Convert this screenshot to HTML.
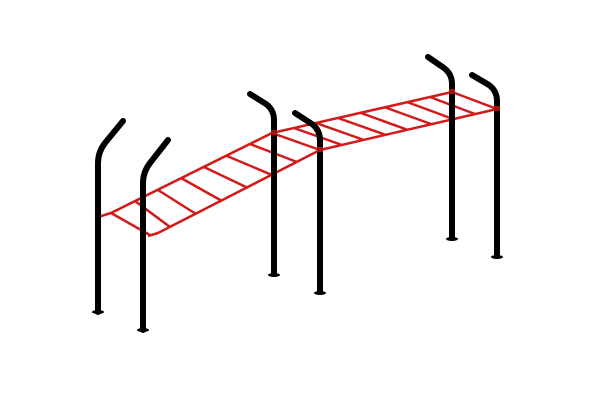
<!DOCTYPE html>
<html><head><style>body{margin:0;background:#fff}svg{display:block}</style></head><body>
<svg width="600" height="400" viewBox="0 0 600 400">
<g stroke="#d31a1a" stroke-width="2.5" fill="none" stroke-linejoin="round">
<path d="M98,217 L111,213 L272,133 L452,92"/>
<path d="M148,236 L158,233 L320,150 L497,109"/>
<path d="M111,213 L150,235"/>
<path d="M135,201 L170,227"/>
<path d="M158,190 L196,214"/>
<path d="M181,178 L222,201"/>
<path d="M204,167 L248,188"/>
<path d="M227,156 L272,175"/>
<path d="M250,144 L297,162"/>
<path d="M272,133 L320,150"/>
<path d="M294,128 L342,145"/>
<path d="M316,123 L364,140"/>
<path d="M338,118 L386,135"/>
<path d="M361,113 L408,130"/>
<path d="M384,107 L431,124"/>
<path d="M407,102 L453,119"/>
<path d="M430,97 L475,114"/>
<path d="M452,92 L497,109"/>
</g>
<g stroke="#000" stroke-width="6" fill="none" stroke-linecap="round" stroke-linejoin="round">
<path d="M98,312 L98,163 Q98,152 105,143 L123,121"/>
<path d="M143,330 L143,183 Q143,172 150,163 L168,140"/>
<path d="M274,274 L274,120 Q274,110 266,104 L250,94"/>
<path d="M320,292 L320,140 Q320,130 312,124 L295,113"/>
<path d="M452,238 L452,84 Q452,74 444,68 L428,57"/>
<path d="M497,256 L497,101 Q497,91 489,85 L472,75"/>
</g>
<g fill="#000">
<ellipse cx="98" cy="312" rx="6" ry="2"/>
<ellipse cx="143" cy="330" rx="6" ry="2"/>
<ellipse cx="274" cy="275" rx="6" ry="2"/>
<ellipse cx="320" cy="293" rx="6" ry="2"/>
<ellipse cx="452" cy="239" rx="6" ry="2"/>
<ellipse cx="497" cy="257" rx="6" ry="2"/>
</g>
<g fill="#a01010">
<rect x="271" y="130" width="6" height="5"/>
<rect x="317" y="147" width="6" height="5"/>
<rect x="449" y="89" width="6" height="5"/>
<rect x="494" y="106" width="6" height="5"/>
</g>
</svg>
</body></html>
